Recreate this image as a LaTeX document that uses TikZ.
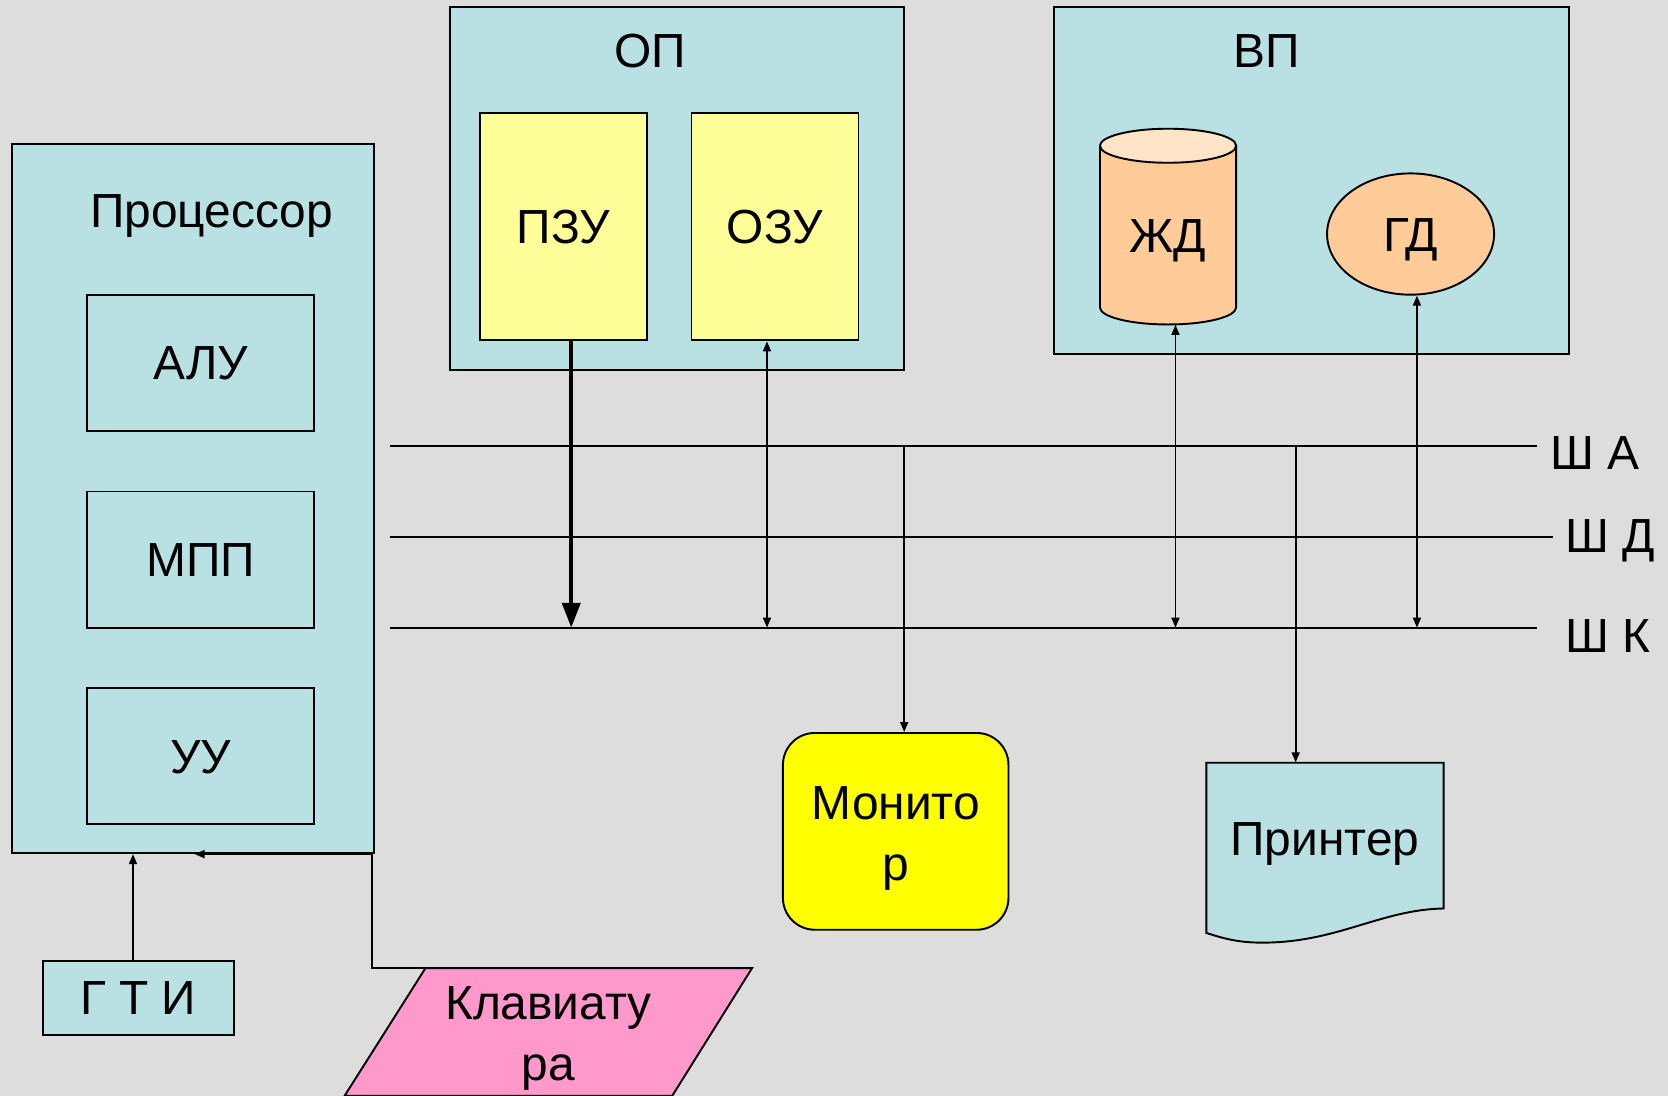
\documentclass[tikz,border=0pt]{standalone}
\usepackage{fontspec}
\setmainfont{Liberation Sans}
\usetikzlibrary{arrows.meta,shapes.geometric,calc}
\definecolor{bg}{RGB}{221,221,221}
\definecolor{paleblue}{RGB}{185,224,227}
\definecolor{paleyellow}{RGB}{255,255,153}
\definecolor{peach}{RGB}{255,204,153}
\definecolor{peachlight}{RGB}{255,228,200}
\definecolor{brightyellow}{RGB}{255,255,0}
\definecolor{kbdpink}{RGB}{255,153,204}
\begin{document}
\begin{tikzpicture}[x=0.5pt,y=0.5pt,
  font=\fontsize{22.5}{28.5}\selectfont,
  capline/.style={text height=16pt, text depth=0pt},
  outline/.style={draw=black, line width=0.9pt},
  box/.style={outline, inner sep=0pt},
  unitbox/.style={box, capline, minimum width=106.5pt, minimum height=64pt},
  membox/.style={box, capline, fill=paleyellow, minimum width=78.5pt, minimum height=107pt},
  lbl/.style={inner sep=0pt, capline},
  bus/.style={line width=1pt},
  tipsmall/.tip={Triangle[length=4.7pt,width=3.75pt]},
  link/.style={line width=0.8pt, -tipsmall},
  dlink/.style={line width=0.8pt, tipsmall-tipsmall},
  heavy/.style={line width=1.9pt, -{Triangle[length=11.7pt,width=8.5pt]}}]

% page and background
\fill[bg] (0,0) rectangle (1568,-1030);
\useasboundingbox (0,0) rectangle (1568,-1030);

% processor with its units
\node[box, fill=paleblue, minimum width=170.5pt, minimum height=333.5pt] (cpu) at (181.5,-468.5) {};
\node[lbl] (cpulbl) at (199,-198) {Процессор};
\node[unitbox] (alu) at (188.5,-341) {АЛУ};
\node[unitbox] (mpp) at (188.5,-526) {МПП};
\node[unitbox] (uu)  at (188.5,-711) {УУ};

% main memory
\node[box, fill=paleblue, minimum width=213.5pt, minimum height=170.5pt] (op) at (636.5,-177.5) {};
\node[lbl] (oplbl) at (611,-47) {ОП};
\node[membox] (pzu) at (529.5,-213) {ПЗУ};
\node[membox] (ozu) at (728.5,-213) {ОЗУ};

% external memory
\node[box, fill=paleblue, minimum width=242pt, minimum height=163pt] (vp) at (1233,-170) {};
\node[lbl] (vplbl) at (1191,-47) {ВП};
% hard disk drawn as a cylinder
\draw[outline, fill=peach] (1034,-137) -- (1034,-289)
  arc[start angle=180, end angle=360, x radius=32pt, y radius=8pt] -- (1162,-137);
\draw[outline, fill=peachlight] (1098,-137) ellipse[x radius=32pt, y radius=8pt];
\node[lbl, minimum width=64pt, minimum height=84pt] (jd) at (1098,-221) {ЖД};
\node[box, capline, ellipse, fill=peach, minimum width=78.5pt, minimum height=57pt] (gd) at (1326,-220) {ГД};

% buses
\coordinate (a0) at (367,-419);  \coordinate (a1) at (1445,-419);
\coordinate (d0) at (367,-505);  \coordinate (d1) at (1460,-505);
\coordinate (k0) at (367,-590);  \coordinate (k1) at (1445,-590);
\draw[bus] (a0) -- (a1);
\draw[bus] (d0) -- (d1);
\draw[bus] (k0) -- (k1);
\node[lbl, anchor=west] (sha) at (1457,-425) {Ш А};
\node[lbl, anchor=west] (shd) at (1471,-503) {Ш Д};
\node[lbl, anchor=west] (shk) at (1471,-597) {Ш К};

% monitor
\node[box, fill=brightyellow, rounded corners=15pt, minimum width=106pt,
      minimum height=92.5pt, align=center] (mon) at (842,-781.5) {};
\node[inner sep=0pt, align=center] (monlbl) at (842,-788) {Монито\\р};

% printer (document shape)
\draw[outline, fill=paleblue] (1134,-717) -- (1357,-717) -- (1357,-854)
  .. controls (1300,-855) and (1260,-884) .. (1194,-886)
  .. controls (1165,-887) and (1150,-882) .. (1134,-877) -- cycle;
\node[lbl, minimum width=111.5pt, minimum height=71pt] (prn) at (1245.5,-788) {Принтер};

% clock generator
\node[box, capline, fill=paleblue, minimum width=90pt, minimum height=35pt] (gti) at (130,-938) {Г Т И};

% keyboard (parallelogram)
\draw[outline, fill=kbdpink] (400,-910) -- (707,-910) -- (632,-1030) -- (324,-1030) -- cycle;
\coordinate (kbdcorner) at (400,-910);
\node[inner sep=0pt, align=center] (kbd) at (515.5,-976.5) {Клавиату\\ра};

% links between the units and the buses
\draw[heavy] ([xshift=3.75pt]pzu.south) -- ([xshift=3.75pt]pzu.south |- k0);
\draw[dlink] ([xshift=-3.75pt]ozu.south) -- ([xshift=-3.75pt]ozu.south |- k0);
\draw[dlink] ([xshift=3.5pt]jd.south) -- ([xshift=3.5pt]jd.south |- k0);
\draw[dlink] ([xshift=3pt]gd.south) -- ([xshift=3pt]gd.south |- k0);
\draw[link] ([xshift=4pt]mon.north |- a0) -- ([xshift=4pt]mon.north);
\draw[link] ([xshift=-13.75pt]prn.north |- a0) -- ([xshift=-13.75pt]prn.north);

% clock and keyboard into the processor
\draw[link] ([xshift=-2.5pt]gti.north) -- ([xshift=-2.5pt]gti.north |- cpu.south);
\draw[link] (kbdcorner) -| ([xshift=-1.5pt]cpu.south east) -- ([xshift=0.75pt]cpu.south);
\end{tikzpicture}
\end{document}
